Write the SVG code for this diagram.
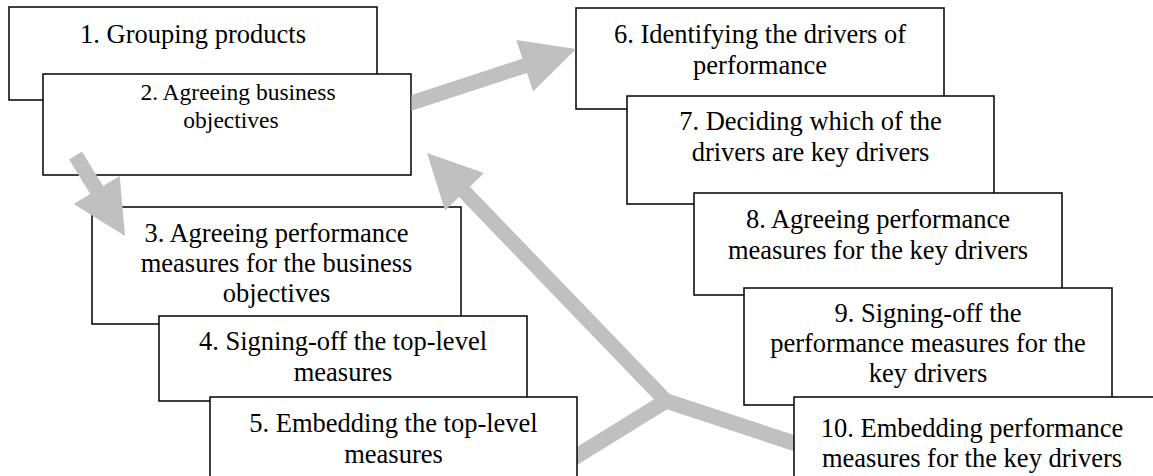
<svg xmlns="http://www.w3.org/2000/svg" width="1153" height="476" viewBox="0 0 1153 476">
  <style>
    .box { fill: #ffffff; stroke: #000000; stroke-width: 1.5; }
    .lbl { font-family: "Liberation Serif", "Times New Roman", serif; font-size: 26.5px; fill: #000000; text-anchor: middle; }
    .small { font-size: 23.5px; }
    .flow { fill: #c0c0c0; stroke: none; }
    .arm { fill: none; stroke: #c0c0c0; stroke-width: 15.5; stroke-linejoin: miter; }
  </style>
  <rect width="1153" height="476" fill="#ffffff"/>

  <g id="node-1">
    <rect class="box" x="9" y="7" width="368" height="93"/>
    <text class="lbl" x="193" y="43">1. Grouping products</text>
  </g>
  <g id="node-2">
    <rect class="box" x="43" y="74" width="368" height="101"/>
    <text class="lbl small" x="238" y="100">2. Agreeing business</text>
    <text class="lbl small" x="231" y="128">objectives</text>
  </g>
  <g id="node-3">
    <rect class="box" x="92" y="207" width="369" height="117"/>
    <text class="lbl" x="276.5" y="242">3. Agreeing performance</text>
    <text class="lbl" x="276.5" y="272">measures for the business</text>
    <text class="lbl" x="276.5" y="302">objectives</text>
  </g>
  <g id="node-4">
    <rect class="box" x="159" y="316" width="368" height="85"/>
    <text class="lbl" x="343" y="350">4. Signing-off the top-level</text>
    <text class="lbl" x="343" y="381">measures</text>
  </g>
  <g id="node-6">
    <rect class="box" x="576" y="8" width="368" height="101"/>
    <text class="lbl" x="760" y="43">6. Identifying the drivers of</text>
    <text class="lbl" x="760" y="74">performance</text>
  </g>
  <g id="node-7">
    <rect class="box" x="627" y="96" width="367" height="108"/>
    <text class="lbl" x="810.5" y="130">7. Deciding which of the</text>
    <text class="lbl" x="810.5" y="161">drivers are key drivers</text>
  </g>
  <g id="node-8">
    <rect class="box" x="694" y="193" width="368" height="102"/>
    <text class="lbl" x="878" y="228">8. Agreeing performance</text>
    <text class="lbl" x="878" y="259">measures for the key drivers</text>
  </g>
  <g id="node-9">
    <rect class="box" x="744" y="288" width="368" height="117"/>
    <text class="lbl" x="928" y="322">9. Signing-off the</text>
    <text class="lbl" x="928" y="352">performance measures for the</text>
    <text class="lbl" x="928" y="382">key drivers</text>
  </g>

  <!-- broad grey flow arrows -->
  <g id="connectors">
    <!-- 2 -> 6 -->
    <polygon class="flow" points="411.5,94.9 522.4,58.7 516.3,40.1 576,49 533.1,91.5 527,72.9 411.5,110.7"/>
    <!-- 2 -> 3 -->
    <polygon class="flow" points="81.9,151.6 103.1,186.1 119.7,175.9 125,236 73.7,204.1 90.3,193.9 69.1,159.4"/>
    <!-- 5 and 10 merge, feeding back to 2 -->
    <path class="arm" d="M560,466.5 L666,401 L810,448.3"/>
    <polygon class="flow" points="671.4,395.8 469.9,186.7 483.9,173.1 427,153 445,210.6 459.1,197.1 660.6,406.2"/>
  </g>

  <g id="node-5">
    <rect class="box" x="210" y="397" width="367" height="100"/>
    <text class="lbl" x="393.5" y="432">5. Embedding the top-level</text>
    <text class="lbl" x="393.5" y="463">measures</text>
  </g>
  <g id="node-10">
    <rect class="box" x="794" y="397" width="368" height="100"/>
    <text class="lbl" x="972" y="437">10. Embedding performance</text>
    <text class="lbl" x="972" y="467">measures for the key drivers</text>
  </g>
</svg>
